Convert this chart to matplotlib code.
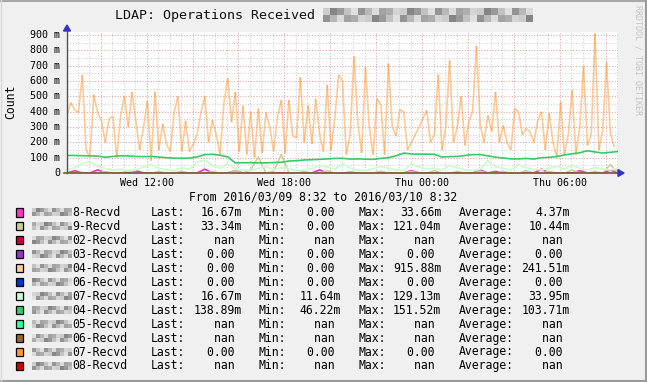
import numpy as np
import matplotlib
matplotlib.use('Agg')
import matplotlib.pyplot as plt
from matplotlib.collections import LineCollection
from matplotlib.patches import Rectangle, Polygon

plt.rcParams['font.family'] = 'DejaVu Sans Mono'

W, H = 647, 382

# --- data (milli ops/s), window 2016/03/09 8:32 -> 2016/03/10 8:32 ---
# 10 minute samples of the spiky xx04-Recvd series
recvd04_vals = [380, 460, 410, 395, 640, 150, 100, 510, 395, 340, 200, 355,
                370, 100, 370, 500, 300, 530, 340, 150, 300, 470, 80, 530,
                150, 320, 190, 140, 395, 500, 140, 340, 140, 190, 250, 395,
                500, 200, 345, 250, 120, 455, 620, 330, 530, 140, 440, 120,
                400, 100, 420, 130, 395, 300, 140, 365, 475, 130, 475, 240,
                230, 625, 200, 440, 190, 485, 260, 140, 575, 150, 360, 640,
                600, 120, 250, 760, 330, 130, 690, 300, 120, 485, 450, 120,
                715, 300, 240, 415, 400, 150, 200, 250, 300, 355, 410, 200,
                250, 640, 150, 300, 735, 200, 300, 500, 180, 335, 400, 830,
                310, 200, 375, 270, 530, 200, 310, 200, 150, 420, 400, 250,
                290, 270, 200, 340, 400, 150, 390, 200, 100, 465, 120, 250,
                540, 120, 300, 700, 180, 250, 910, 150, 280, 720, 260, 170]

# 20 minute samples for the smoother series
recvd04b_vals = [115, 114, 113, 112, 110, 103, 108, 112, 111, 108, 107, 108,
                 104, 100, 97, 96, 97, 105, 120, 122, 116, 105, 66, 67,
                 67, 66, 66, 68, 70, 78, 80, 85, 87, 89, 92, 95,
                 96, 91, 92, 90, 89, 95, 100, 112, 130, 124, 123, 123,
                 122, 104, 107, 108, 114, 120, 120, 112, 103, 98, 92, 92,
                 95, 91, 100, 102, 108, 118, 125, 132, 145, 137, 130, 135, 140]

recvd07_vals = [20, 35, 60, 75, 45, 30, 20, 25, 15, 20, 40, 55,
                30, 20, 15, 35, 25, 70, 85, 50, 30, 60, 25, 20,
                15, 30, 45, 20, 35, 25, 15, 20, 30, 50, 40, 25,
                60, 30, 20, 15, 25, 45, 30, 20, 15, 60, 40, 25,
                30, 20, 50, 35, 20, 15, 25, 80, 40, 30, 20, 55,
                35, 25, 20, 30, 45, 25, 50, 30, 20, 35, 25, 20, 30]

recvd9_vals = [0, 0, 5, 0, 0, 10, 0, 0, 15, 0, 0, 0,
               10, 0, 0, 12, 0, 0, 0, 10, 0, 0, 15, 0,
               20, 105, 0, 10, 121, 0, 0, 10, 0, 0, 15, 0,
               0, 10, 0, 0, 0, 12, 0, 0, 0, 10, 0, 0,
               15, 0, 0, 10, 0, 0, 12, 0, 0, 10, 0, 0,
               15, 0, 0, 10, 0, 0, 20, 0, 0, 10, 0, 55, 0]

recvd8_vals = [0, 15, 0, 0, 20, 0, 0, 0, 0, 15, 0, 0,
               0, 0, 0, 0, 0, 0, 25, 0, 0, 0, 15, 0,
               0, 0, 0, 0, 0, 0, 0, 0, 0, 20, 0, 0,
               0, 0, 0, 0, 0, 0, 0, 0, 0, 15, 0, 0,
               0, 0, 0, 0, 0, 0, 20, 0, 10, 0, 0, 0,
               0, 0, 25, 0, 0, 0, 0, 15, 0, 0, 0, 20, 0]

x_tick_labels = ['Wed 12:00', 'Wed 18:00', 'Thu 00:00', 'Thu 06:00']
x_tick_minutes = [208, 568, 928, 1288]

legend_names = ['8-Recvd', '9-Recvd', '02-Recvd', '03-Recvd', '04-Recvd', '06-Recvd',
                '07-Recvd', '04-Recvd', '05-Recvd', '06-Recvd', '07-Recvd', '08-Recvd']
legend_colors = ['#FF33CC', '#CCCC99', '#CC0033', '#9933CC', '#FFCC99', '#0033CC',
                 '#CCFFCC', '#33CC66', '#33FF99', '#996633', '#FF9933', '#CC0000']
last_vals = ['16.67m', '33.34m', 'nan ', '0.00 ', '0.00 ', '0.00 ',
             '16.67m', '138.89m', 'nan ', 'nan ', '0.00 ', 'nan ']
min_vals = ['0.00 ', '0.00 ', 'nan ', '0.00 ', '0.00 ', '0.00 ',
            '11.64m', '46.22m', 'nan ', 'nan ', '0.00 ', 'nan ']
max_vals = ['33.66m', '121.04m', 'nan ', '0.00 ', '915.88m', '0.00 ',
            '129.13m', '151.52m', 'nan ', 'nan ', '0.00 ', 'nan ']
avg_vals = ['4.37m', '10.44m', 'nan ', '0.00 ', '241.51m', '0.00 ',
            '33.95m', '103.71m', 'nan ', 'nan ', '0.00 ', 'nan ']

# gray levels used for the pixelated (blurred) host names
blur_grays = [0.80, 0.68, 0.86, 0.58, 0.76, 0.52, 0.83, 0.64, 0.72, 0.88, 0.60]

fig = plt.figure(figsize=(W / 100, H / 100), dpi=100, facecolor='#F0F0F0')

# main plot area
ax = fig.add_axes([67 / W, (H - 173) / H, 551 / W, 141 / H], facecolor='white')
ax.set_xlim(0, 1440)
ax.set_ylim(0, 919.6)
for s in ax.spines.values():
    s.set_visible(False)
ax.set_xticks([])
ax.set_yticks([])

# grid: 30 min minor, 2 h major, 50 m minor, 100 m major
for m in np.arange(28, 1440, 30):
    major = (m - 88) % 120 == 0
    ax.axvline(m, color='#E6A8A8' if major else '#D4D4D4', lw=0.8,
               ls=(0, (1, 1.5)), zorder=1)
for v in np.arange(50, 920, 50):
    major = v % 100 == 0
    ax.axhline(v, color='#E6A8A8' if major else '#D4D4D4', lw=0.8,
               ls=(0, (1, 1.5)), zorder=1)

t_fast = np.arange(len(recvd04_vals)) * 10.0
t_slow = np.linspace(0, 1440, len(recvd04b_vals))

ax.plot(t_slow, recvd8_vals, color='#FF33CC', lw=1.3, zorder=3)
ax.plot(t_slow, recvd9_vals, color='#CCCC99', lw=1.1, zorder=3)

# semi transparent orange line, drawn segment by segment so overlaps darken
pts = np.column_stack([t_fast, recvd04_vals])
segs = np.stack([pts[:-1], pts[1:]], axis=1)
ax.add_collection(LineCollection(segs, colors='#FF9933', alpha=0.5, lw=1.2, zorder=4))

ax.plot(t_slow, recvd07_vals, color='#CCFFCC', lw=1.3, zorder=5)
ax.plot(t_slow, recvd04b_vals, color='#33CC66', lw=1.2, zorder=6)

# overlay axes in pixel coordinates for all the decoration
ov = fig.add_axes([0, 0, 1, 1], facecolor='none')
ov.set_xlim(0, W)
ov.set_ylim(H, 0)
ov.axis('off')

# frame
ov.plot([0, W - 1], [0.8, 0.8], color='#A8A8A8', lw=1.5)
ov.plot([W - 1, W - 1], [0, H], color='#9A9A9A', lw=1.5)
ov.plot([0, W], [H - 1, H - 1], color='#9A9A9A', lw=1.5)
ov.plot([0.5, 0.5], [0, H], color='#D8D8D8', lw=1.0)

# axes lines and arrows
ov.plot([67, 67], [30, 173], color='#505050', lw=1.0, zorder=5)
ov.plot([64, 620], [173, 173], color='#7A5230', lw=1.2, zorder=5)
ov.add_patch(Polygon([[63.5, 31], [70.5, 31], [67, 25]], closed=True, color='#3333CC', zorder=6))
ov.add_patch(Polygon([[618, 169.5], [618, 176.5], [624, 173]], closed=True, color='#3333CC', zorder=6))

# title
ov.text(115, 15, 'LDAP: Operations Received', fontsize=9.6, ha='left', va='center', color='#111111')


def mosaic(x0, y0, w, h, bs, seed):
    cols = int(w // bs)
    rows = int(h // bs)
    for r in range(rows):
        for c in range(cols):
            g = blur_grays[(c * 5 + r * 3 + seed) % len(blur_grays)]
            ov.add_patch(Rectangle((x0 + c * bs, y0 + r * bs), bs, bs,
                                   color=(g, g, g), lw=0))


mosaic(323, 8, 210, 14, 7, 0)

# watermark
ov.text(638, 5, 'RRDTOOL / TOBI OETIKER', fontsize=6, rotation=270, ha='center',
        va='top', color='#C4C4C4')

# y labels
ov.text(11, 102, 'Count', fontsize=8.3, rotation=90, ha='center', va='center')
for v in range(0, 1000, 100):
    y = 173 - v / 919.6 * 141
    ov.text(60, y, '0' if v == 0 else f'{v} m', fontsize=7.2, ha='right', va='center')

# x labels
for m, lab in zip(x_tick_minutes, x_tick_labels):
    ov.text(67 + m / 1440 * 551, 183, lab, fontsize=7.2, ha='center', va='center')

ov.text(323, 197.5, 'From 2016/03/09 8:32 to 2016/03/10 8:32', fontsize=8.3,
        ha='center', va='center')

# legend rows
for i, name in enumerate(legend_names):
    y = 212.3 + i * 13.97
    ov.add_patch(Rectangle((15.8, y - 4.2), 7.6, 8.4, facecolor=legend_colors[i],
                           edgecolor='black', lw=0.9))
    mosaic(32, y - 4, 40, 8, 4, i)
    ov.text(72.5, y, name, fontsize=8.3, ha='left', va='center')
    ov.text(151, y, 'Last:', fontsize=8.3, ha='left', va='center')
    ov.text(241.5, y, last_vals[i], fontsize=8.3, ha='right', va='center')
    ov.text(258.5, y, 'Min:', fontsize=8.3, ha='left', va='center')
    ov.text(341, y, min_vals[i], fontsize=8.3, ha='right', va='center')
    ov.text(358.5, y, 'Max:', fontsize=8.3, ha='left', va='center')
    ov.text(441, y, max_vals[i], fontsize=8.3, ha='right', va='center')
    ov.text(458.5, y, 'Average:', fontsize=8.3, ha='left', va='center')
    ov.text(569.5, y, avg_vals[i], fontsize=8.3, ha='right', va='center')

fig.savefig('out.png', dpi=100, facecolor=fig.get_facecolor())
